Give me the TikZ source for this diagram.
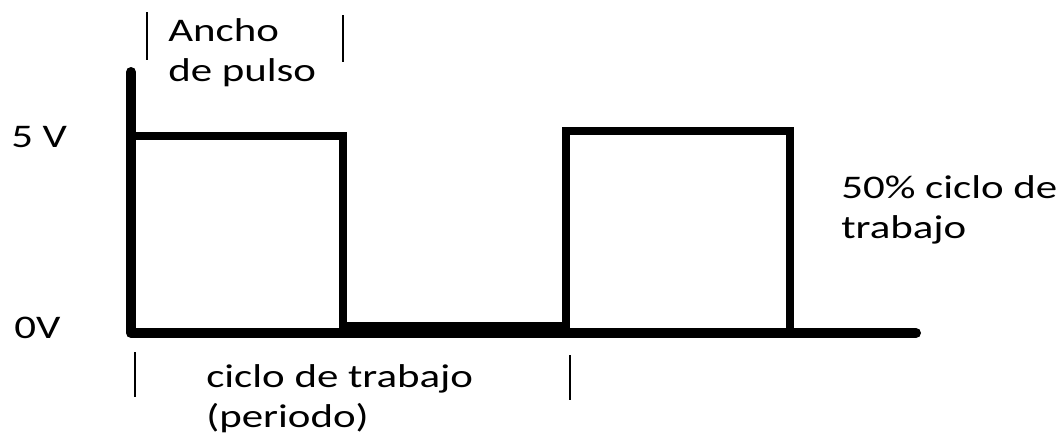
\documentclass[tikz,border=0pt]{standalone}
\usepackage{fontspec}
\newfontfamily\calfont[FakeStretch=1.3]{Carlito}
\begin{document}
\begin{tikzpicture}[x=0.75pt,y=-0.75pt,
  lbl/.style={font=\calfont\fontsize{24.75}{30}\selectfont,inner sep=0pt,anchor=west,align=left},
  axisline/.style={line width=7.5pt,line join=round,line cap=round},
  pulse/.style={line width=6pt,line join=miter},
  tick/.style={line width=1.5pt}]
\useasboundingbox (0,0) rectangle (1060,436);
% coordinates
\coordinate (top) at (131,72);
\coordinate (org) at (131,333);
\coordinate (xend) at (916,333);
\coordinate (p1tl) at (131,136);
\coordinate (p1tr) at (343,136);
\coordinate (p1br) at (343,333);
\coordinate (midl) at (343,330);
\coordinate (midr) at (566,330);
\coordinate (p2bl) at (566,333);
\coordinate (p2tl) at (566,131);
\coordinate (p2tr) at (790,131);
\coordinate (p2br) at (790,333);
% pulses
\draw[pulse] (p1tl) -- (p1tr) -- (p1br);
\draw[pulse] (p2bl) -- (p2tl) -- (p2tr) -- (p2br);
% thick low segment
\draw[line width=12pt] (midl) -- (midr);
% axes
\draw[axisline] (top) -- (org) -- (xend);
% ticks
\coordinate (t1a) at (147,12); \coordinate (t1b) at (147,60);
\coordinate (t2a) at (343,15); \coordinate (t2b) at (343,62);
\coordinate (t3a) at (135,352); \coordinate (t3b) at (135,397);
\coordinate (t4a) at (570,355); \coordinate (t4b) at (570,400);
\draw[tick] (t1a) -- (t1b);
\draw[tick] (t2a) -- (t2b);
\draw[tick] (t3a) -- (t3b);
\draw[tick] (t4a) -- (t4b);
% labels
\node[lbl] (ancho) at (168,53) {Ancho\\de pulso};
\node[lbl] (v5) at (11,137) {5 V};
\node[lbl] (v0) at (14,328) {0V};
\node[lbl] (duty) at (841,210) {50\% ciclo de\\trabajo};
\node[lbl] (ciclo) at (206,399) {ciclo de trabajo\\(periodo)};
\end{tikzpicture}
\end{document}
